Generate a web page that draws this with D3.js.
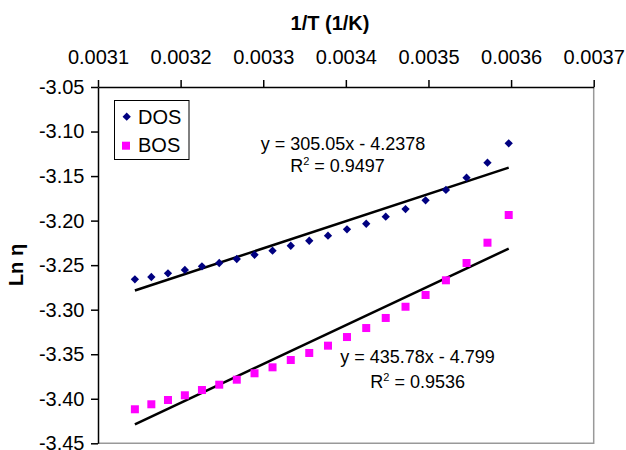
<!DOCTYPE html>
<html>
<head>
<meta charset="utf-8">
<script src="https://d3js.org/d3.v7.min.js"></script>
<style>
  body { margin: 0; background: #fff; }
  text { font-family: "Liberation Sans", Arial, sans-serif; fill: #000; }
</style>
</head>
<body>
<svg width="626" height="450"></svg>
<script>
// 1/T values (1/K), T = 318 ... 278 K
var invT = [0.00314465, 0.00316456, 0.00318471, 0.00320513, 0.00322581, 0.00324675,
            0.00326797, 0.00328947, 0.00331126, 0.00333333, 0.00335570, 0.00337838,
            0.00340136, 0.00342466, 0.00344828, 0.00347222, 0.00349650, 0.00352113,
            0.00354610, 0.00357143, 0.00359712];
var dos = [-3.2659, -3.2633, -3.2592, -3.2554, -3.2513, -3.2476, -3.2431, -3.2383, -3.2338,
           -3.2282, -3.2226, -3.2169, -3.2098, -3.2035, -3.1956, -3.1870, -3.1772, -3.1656,
           -3.1518, -3.1350, -3.1132];
var bos = [-3.4118, -3.4062, -3.4014, -3.3961, -3.3902, -3.3842, -3.3786, -3.3714, -3.3647,
           -3.3565, -3.3486, -3.3404, -3.3307, -3.3206, -3.3093, -3.2967, -3.2835, -3.2670,
           -3.2476, -3.2248, -3.1937];
var seriesNames = ["DOS", "BOS"];
var slopes = [305.05, 435.78];
var intercepts = [-4.2378, -4.799];
var r2 = ["0.9497", "0.9536"];
var xTicks = [0.0031, 0.0032, 0.0033, 0.0034, 0.0035, 0.0036, 0.0037];
var yTicks = [-3.05, -3.10, -3.15, -3.20, -3.25, -3.30, -3.35, -3.40, -3.45];

var svg = d3.select("svg");
var pLeft = 98, pRight = 593.7, pTop = 87, pBottom = 443.3;

var x = d3.scaleLinear().domain([0.0031, 0.0037]).range([pLeft, pRight]);
var y = d3.scaleLinear().domain([-3.05, -3.45]).range([pTop, pBottom]);

// plot area border (right / bottom grey)
svg.append("path")
    .attr("d", "M" + pLeft + "," + pBottom + "H" + pRight + "V" + pTop)
    .attr("fill", "none")
    .attr("stroke", "#999")
    .attr("stroke-width", 1.5);

var xAxis = svg.append("g")
    .attr("transform", "translate(0," + pTop + ")")
    .call(d3.axisTop(x).tickValues(xTicks).tickSize(7).tickSizeOuter(0).tickPadding(16)
      .tickFormat(function(d){ return d.toFixed(4); }));
var yAxis = svg.append("g")
    .attr("transform", "translate(" + pLeft + ",0)")
    .call(d3.axisLeft(y).tickValues(yTicks).tickSize(7).tickSizeOuter(0).tickPadding(6.5)
      .tickFormat(function(d){ return d.toFixed(2); }));
[xAxis, yAxis].forEach(function(a){
  a.select(".domain").attr("stroke", "#000").attr("stroke-width", 1.5);
  a.selectAll(".tick line").attr("stroke", "#000").attr("stroke-width", 1.5);
  a.selectAll(".tick text").style("font-size", "20px").attr("fill", "#000")
    .style("font-family", "'Liberation Sans', Arial, sans-serif");
});

// axis titles
svg.append("text")
    .attr("x", 330).attr("y", 30)
    .attr("text-anchor", "middle")
    .style("font-size", "20px").style("font-weight", "bold")
    .text("1/T (1/K)");
svg.append("text")
    .attr("transform", "translate(23,265) rotate(-90)")
    .attr("text-anchor", "middle")
    .style("font-size", "20px").style("font-weight", "bold")
    .text("Ln η");

// trend lines
var xExt = d3.extent(invT);
var line = d3.line().x(function(d){ return x(d[0]); }).y(function(d){ return y(d[1]); });
slopes.forEach(function(m, i){
  svg.append("path")
      .attr("d", line(xExt.map(function(v){ return [v, m * v + intercepts[i]]; })))
      .attr("stroke", "#000")
      .attr("stroke-width", 2.5)
      .attr("fill", "none");
});

// points
var diamond = d3.symbol().type(d3.symbolDiamond2).size(44);
svg.append("g").selectAll("path")
    .data(invT.map(function(v, i){ return [v, dos[i]]; }))
    .enter().append("path")
      .attr("d", diamond)
      .attr("transform", function(d){ return "translate(" + x(d[0]) + "," + y(d[1]) + ")"; })
      .attr("fill", "#000080");
svg.append("g").selectAll("rect")
    .data(invT.map(function(v, i){ return [v, bos[i]]; }))
    .enter().append("rect")
      .attr("x", function(d){ return x(d[0]) - 4; })
      .attr("y", function(d){ return y(d[1]) - 4; })
      .attr("width", 8).attr("height", 8)
      .attr("fill", "#ff00ff");

// equation labels
var eqPos = [[343, 150, 337.5, 172.3], [417.5, 362.7, 417.7, 388.3]];
slopes.forEach(function(m, i){
  var p = eqPos[i];
  svg.append("text")
      .attr("x", p[0]).attr("y", p[1])
      .attr("text-anchor", "middle")
      .style("font-size", "18px")
      .text("y = " + m + "x - " + Math.abs(intercepts[i]));
  var t = svg.append("text")
      .attr("x", p[2]).attr("y", p[3])
      .attr("text-anchor", "middle")
      .style("font-size", "18px");
  t.append("tspan").text("R");
  t.append("tspan").attr("dy", -7).style("font-size", "11px").text("2");
  t.append("tspan").attr("dy", 7).text(" = " + r2[i]);
});

// legend
var leg = svg.append("g");
leg.append("rect")
    .attr("x", 114.5).attr("y", 100.5).attr("width", 74.5).attr("height", 59)
    .attr("fill", "#fff").attr("stroke", "#000").attr("stroke-width", 1);
leg.append("path")
    .attr("d", diamond)
    .attr("transform", "translate(126.7,116.7)")
    .attr("fill", "#000080");
leg.append("rect")
    .attr("x", 122).attr("y", 141.7).attr("width", 8).attr("height", 8)
    .attr("fill", "#ff00ff");
seriesNames.forEach(function(n, i){
  leg.append("text")
      .attr("x", 138).attr("y", 123.5 + i * 28.5)
      .style("font-size", "20px")
      .text(n);
});
</script>
</body>
</html>
